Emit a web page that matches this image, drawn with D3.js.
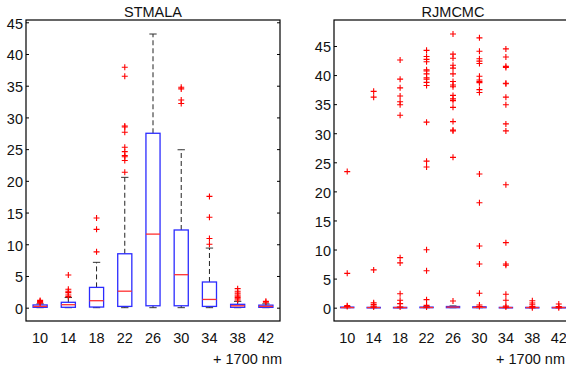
<!DOCTYPE html>
<html>
<head>
<meta charset="utf-8">
<script src="https://cdn.jsdelivr.net/npm/d3@7"></script>
<style>
  body { margin: 0; background: #fff; }
  svg { display: block; font-family: "Liberation Sans", Arial, sans-serif; }
</style>
</head>
<body>
<svg id="chart" width="566" height="367"></svg>
<script>
const categories = [10, 14, 18, 22, 26, 30, 34, 38, 42];
const yTicks = [0, 5, 10, 15, 20, 25, 30, 35, 40, 45];

// STMALA boxplot stats
const stQ1 = [0.06, 0.06, 0.1, 0.2, 0.3, 0.3, 0.2, 0.06, 0.05];
const stMedian = [0.2, 0.47, 1.1, 2.6, 11.6, 5.2, 1.3, 0.3, 0.2];
const stQ3 = [0.43, 0.85, 3.2, 8.5, 27.5, 12.25, 4.05, 0.53, 0.4];
const stLow = [0, 0, 0, 0, 0, 0, 0, 0, 0];
const stHigh = [0.6, 1.6, 7.15, 20.55, 43.15, 24.9, 9.4, 1.0, 0.6];
const stOutliers = [
  [0.75, 0.85, 1.0, 1.15],
  [1.75, 2.0, 2.37, 2.6, 2.9, 5.15],
  [8.8, 12.35, 14.15],
  [21.35, 23.2, 23.8, 24.0, 24.6, 25.3, 27.65, 28.5, 28.65, 36.5, 37.9],
  [],
  [32.2, 32.75, 34.5, 34.75],
  [10.0, 10.9, 14.25, 17.55],
  [1.2, 1.4, 1.6, 1.8, 2.0, 2.3, 2.6, 3.0],
  [0.85, 1.0]
];

// RJMCMC boxplot stats
const rjQ1 = [0, 0, 0, 0, 0, 0, 0, 0, 0];
const rjMedian = [0.02, 0.02, 0.02, 0.03, 0.1, 0.05, 0.02, 0.02, 0.02];
const rjQ3 = [0.1, 0.05, 0.05, 0.1, 0.2, 0.15, 0.05, 0.05, 0.05];
const rjLow = [0, 0, 0, 0, 0, 0, 0, 0, 0];
const rjHigh = [0.15, 0.08, 0.08, 0.15, 0.3, 0.2, 0.08, 0.08, 0.08];
const rjOutliers = [
  [0.2, 0.35, 5.9, 23.4],
  [0.1, 0.3, 0.57, 0.86, 6.5, 36.2, 37.2],
  [0.1, 0.7, 1.27, 2.4, 7.7, 8.6, 33.1, 34.9, 35.4, 36.4, 37.8, 39.3, 42.6],
  [0.1, 0.4, 1.38, 6.36, 9.97, 24.2, 25.2, 31.9, 38.2, 38.75, 39.3, 39.55, 40.2, 40.7, 40.9, 42.3, 42.7, 43.2, 44.25],
  [1.15, 25.85, 30.4, 30.55, 32.0, 34.45, 35.6, 35.9, 36.5, 38.0, 38.3, 38.9, 40.2, 41.2, 41.7, 42.9, 43.6, 47.06],
  [0.2, 0.46, 2.47, 7.5, 10.6, 18.05, 23.0, 37.0, 37.5, 38.7, 38.9, 39.15, 39.8, 42.0, 42.4, 42.8, 44.1, 46.4],
  [0.1, 0.3, 1.27, 2.3, 7.3, 7.5, 11.18, 21.15, 30.4, 31.6, 34.9, 36.2, 38.5, 38.6, 41.3, 41.5, 43.1, 44.5],
  [0.0, 0.2, 0.5, 0.8, 1.2],
  [0.0, 0.2, 0.63]
];

const svg = d3.select("#chart");

function drawPanel(opts) {
  const w = opts.width, h = 301;
  const g = svg.append("g").attr("transform", "translate(" + opts.left + ",20)");

  const x = d3.scaleBand().domain(categories).range([0, w]).padding(0);
  const y = d3.scaleLinear().domain(opts.yDomain).range([h, 0]);
  const bw = x.bandwidth();
  const cx = c => x(c) + bw / 2;

  // y axis left, ticks inward
  const ax = g.append("g")
    .call(d3.axisLeft(y).tickValues(yTicks).tickSize(-3).tickPadding(3));
  ax.select(".domain").remove();
  ax.selectAll("line").attr("stroke", "#000");
  ax.selectAll("text").attr("font-size", 14.5).attr("fill", "#111")
    .attr("font-family", "Liberation Sans, Arial, sans-serif").attr("dy", "0.4em");

  const axr = g.append("g").attr("transform", "translate(" + w + ",0)")
    .call(d3.axisRight(y).tickValues(yTicks).tickSize(-3).tickFormat(""));
  axr.select(".domain").remove();
  axr.selectAll("line").attr("stroke", "#000");

  // x tick labels
  g.selectAll(".xl").data(categories).enter().append("text")
    .attr("x", d => cx(d)).attr("y", h + 22)
    .attr("text-anchor", "middle").attr("font-size", 14.5).attr("fill", "#111")
    .text(d => d);

  g.append("text").attr("x", opts.xlabelRight).attr("y", h + 43)
    .attr("text-anchor", "end").attr("font-size", 14.5).attr("fill", "#111")
    .text("+ 1700 nm");

  g.append("text").attr("x", w / 2).attr("y", -3)
    .attr("text-anchor", "middle").attr("font-size", 14.5).attr("fill", "#111")
    .text(opts.title);

  const idx = categories.map((c, i) => i);

  // whiskers
  g.selectAll(".wu").data(idx).enter().append("line")
    .attr("x1", i => cx(categories[i])).attr("x2", i => cx(categories[i]))
    .attr("y1", i => y(opts.q3[i])).attr("y2", i => y(opts.high[i]))
    .attr("stroke", "#222").attr("stroke-dasharray", "5,3");
  g.selectAll(".wl").data(idx).enter().append("line")
    .attr("x1", i => cx(categories[i])).attr("x2", i => cx(categories[i]))
    .attr("y1", i => y(opts.q1[i])).attr("y2", i => y(opts.low[i]))
    .attr("stroke", "#222").attr("stroke-dasharray", "5,3");

  // caps
  [opts.high, opts.low].forEach(arr => {
    g.selectAll(null).data(idx).enter().append("line")
      .attr("x1", i => cx(categories[i]) - bw * 0.13)
      .attr("x2", i => cx(categories[i]) + bw * 0.13)
      .attr("y1", i => y(arr[i])).attr("y2", i => y(arr[i]))
      .attr("stroke", "#333");
  });

  // boxes
  g.selectAll(".box").data(idx).enter().append("rect")
    .attr("x", i => cx(categories[i]) - bw / 4)
    .attr("width", bw / 2)
    .attr("y", i => y(opts.q3[i]))
    .attr("height", i => Math.max(0.5, y(opts.q1[i]) - y(opts.q3[i])))
    .attr("fill", "none").attr("stroke", "#2b2bff").attr("stroke-width", 1.3);

  // medians
  g.selectAll(".med").data(idx).enter().append("line")
    .attr("x1", i => cx(categories[i]) - bw / 4)
    .attr("x2", i => cx(categories[i]) + bw / 4)
    .attr("y1", i => y(opts.median[i])).attr("y2", i => y(opts.median[i]))
    .attr("stroke", "#ff3030").attr("stroke-width", 1.3);

  // outliers
  const pts = [];
  opts.outliers.forEach((arr, i) => arr.forEach(v => pts.push({c: categories[i], v: v})));
  g.selectAll(".out").data(pts).enter().append("path")
    .attr("d", d => {
      const px = cx(d.c), py = y(d.v), s = 3;
      return "M" + (px - s) + "," + py + "H" + (px + s) + "M" + px + "," + (py - s) + "V" + (py + s);
    })
    .attr("stroke", "#ff0000").attr("stroke-width", 1.1).attr("fill", "none");

  // frame
  g.append("rect").attr("x", 0).attr("y", 0).attr("width", w).attr("height", h)
    .attr("fill", "none").attr("stroke", "#000").attr("stroke-width", 1.2);
}

drawPanel({
  left: 26, width: 254, title: "STMALA", yDomain: [-2.1, 45.36],
  q1: stQ1, median: stMedian, q3: stQ3, low: stLow, high: stHigh, outliers: stOutliers,
  xlabelRight: 256
});

drawPanel({
  left: 334, width: 238, title: "RJMCMC", yDomain: [-2.29, 49.47],
  q1: rjQ1, median: rjMedian, q3: rjQ3, low: rjLow, high: rjHigh, outliers: rjOutliers,
  xlabelRight: 231
});
</script>
</body>
</html>
